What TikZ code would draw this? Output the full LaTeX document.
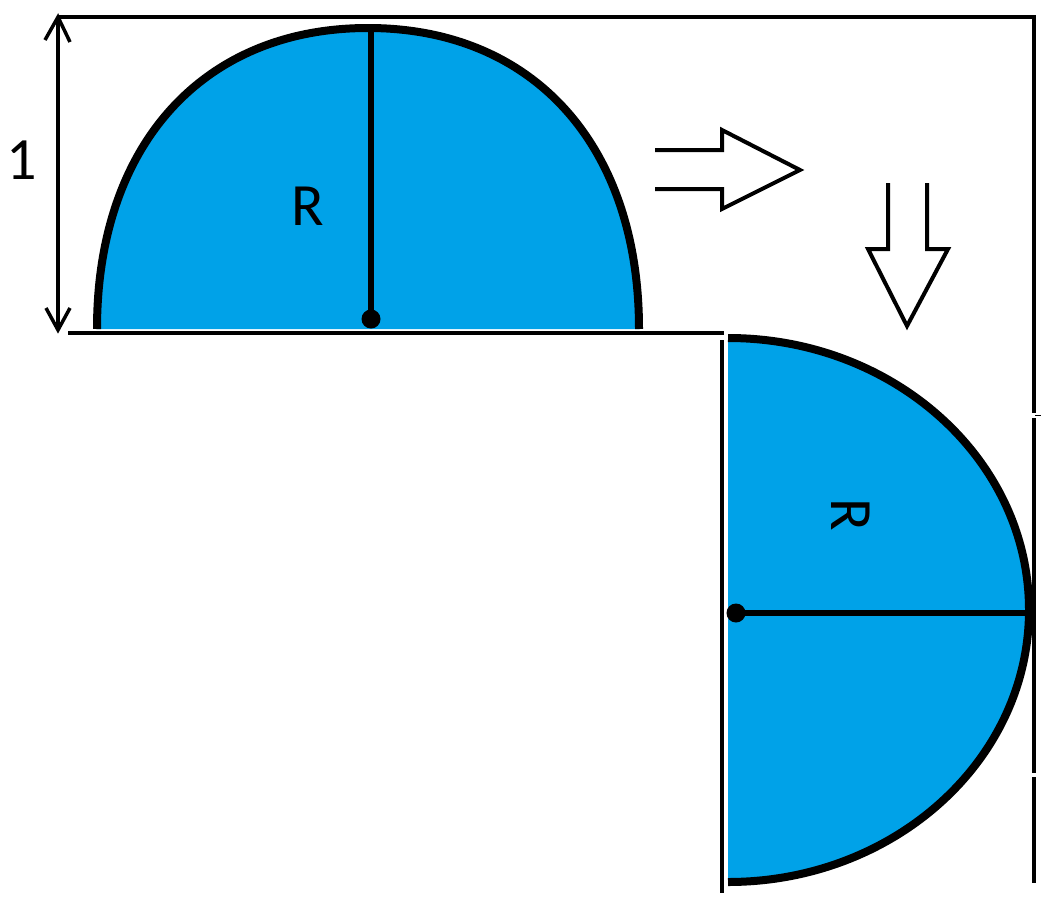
\documentclass[tikz,border=0pt]{standalone}
\usepackage{fontspec}
\setmainfont{Carlito}
\definecolor{paintblue}{HTML}{00A2E8}
\begin{document}
\begin{tikzpicture}[x=1pt,y=-1pt,
  wall/.style={line width=4.8pt},
  outline/.style={line width=8pt},
  radline/.style={line width=6.5pt},
  blockarrow/.style={line width=4pt,line join=miter},
  lbl/.style={font=\fontsize{60}{60}\selectfont,inner sep=0pt}]
\useasboundingbox (0,0) rectangle (1057,913);
% walls
\coordinate (tl) at (57,17);
\coordinate (tr) at (1034,17);
\coordinate (g1a) at (1034,413);
\coordinate (g1b) at (1034,418);
\coordinate (g2a) at (1034,773);
\coordinate (g2b) at (1034,777);
\coordinate (br) at (1034,883);
\coordinate (bl1) at (68,333);
\coordinate (bl2) at (724,333);
\coordinate (vl1) at (722,340);
\coordinate (vl2) at (722,893);
\draw[wall] (tl) -- (tr) -- (g1a);
\draw[wall] (g1b) -- (g2a);
\draw[wall] (g2b) -- (br);
\draw[line width=1.5pt] (1035,415.5) -- (1041,415.5);
\draw[wall] (bl1) -- (bl2);
\draw[wall] (vl1) -- (vl2);
% top dome
\fill[paintblue] (97,329) .. controls (97,145.4) and (202.7,28) .. (368,28)
  .. controls (533.3,28) and (639,145.4) .. (639,329) -- cycle;
\draw[outline] (97,329) .. controls (97,145.4) and (202.7,28) .. (368,28)
  .. controls (533.3,28) and (639,145.4) .. (639,329);
\coordinate (c1) at (371,319);
\coordinate (t1) at (371,28);
\draw[radline] (c1) -- (t1);
\fill (c1) circle[radius=9.5];
\node[lbl] (r1) at (308,206) {R};
% right half-ellipse
\fill[paintblue] (728,882) arc[start angle=90,end angle=-90,x radius=301,y radius=272] -- cycle;
\draw[outline] (728,882) arc[start angle=90,end angle=-90,x radius=301,y radius=272];
\coordinate (c2) at (736,613);
\coordinate (t2) at (1029,613);
\draw[radline] (c2) -- (t2);
\fill (c2) circle[radius=9.5];
\node[lbl,rotate=-90] (r2) at (851,515) {R};
% dimension
\coordinate (dtop) at (58,17);
\coordinate (dbot) at (58,330);
\draw[line width=3.5pt] (dtop) -- (dbot);
\draw[line width=3.5pt,line join=miter] (45,40) -- (dtop) -- (70,42);
\draw[line width=3.5pt,line join=miter] (46,308) -- (dbot) -- (70,308);
\node[lbl] (one) at (22,160) {1};
% block arrows
\draw[blockarrow] (655,150) -- (722,150) -- (722,130) -- (800,170) -- (722,209) -- (722,189) -- (655,189);
\draw[blockarrow] (888,183) -- (888,249) -- (868,249) -- (907,326) -- (948,249) -- (927,249) -- (927,183);
\end{tikzpicture}
\end{document}
